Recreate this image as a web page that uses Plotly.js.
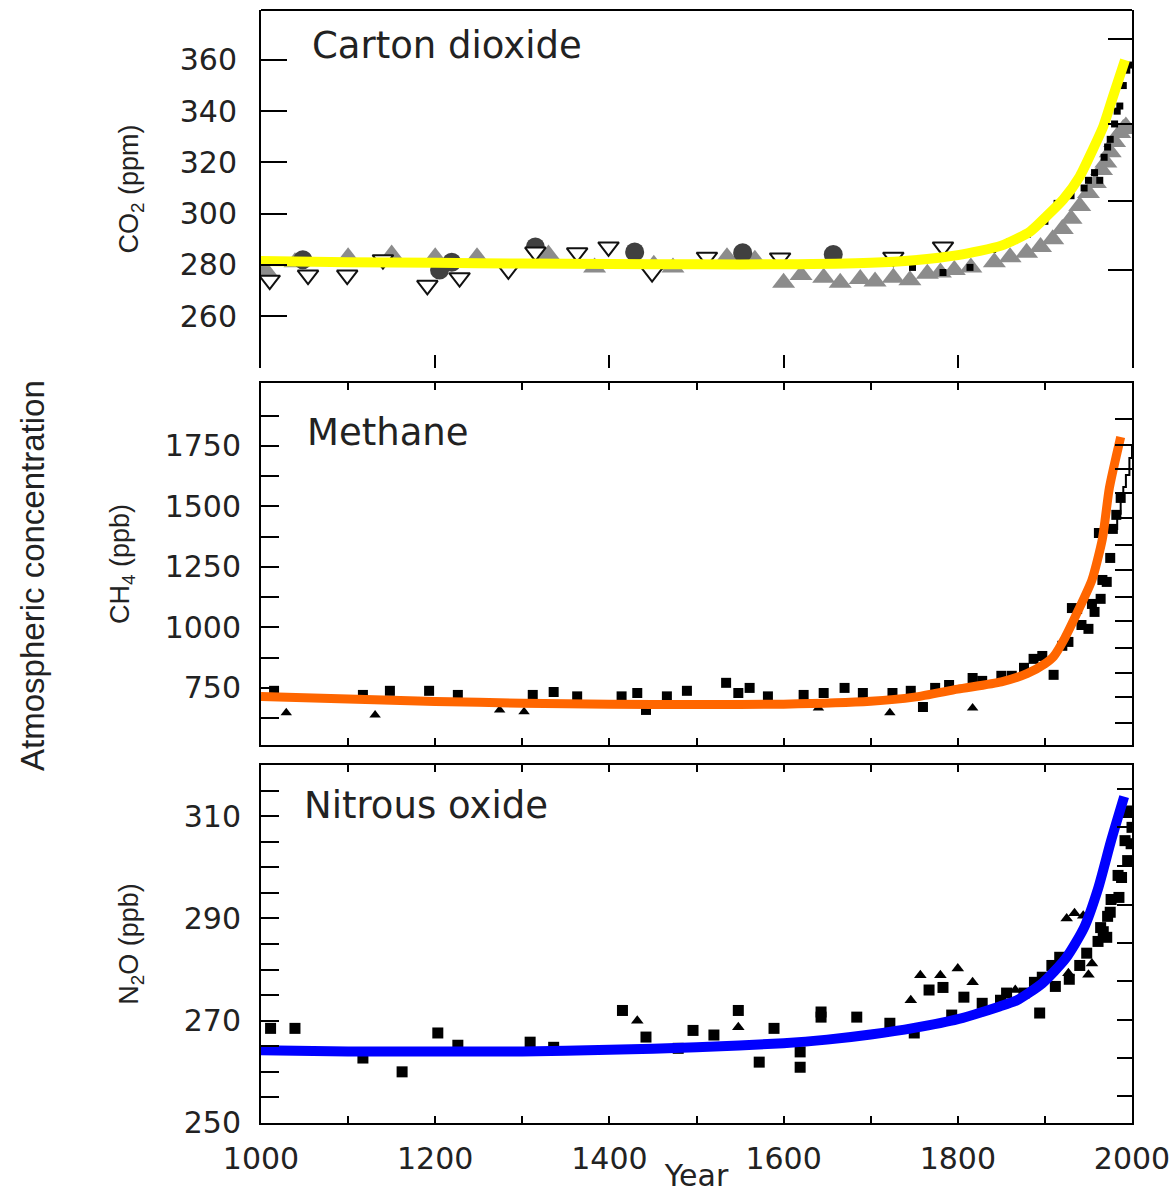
<!DOCTYPE html>
<html>
<head>
<meta charset="utf-8">
<script src="https://cdn.plot.ly/plotly-3.0.1.min.js"></script>
<style>html,body{margin:0;padding:0;background:#fff;}#chart{width:1171px;height:1193px;}</style>
</head>
<body>
<div id="chart"></div>
<script>
// ---------------- Carbon dioxide (ppm) ----------------
const co2LineYear = [1000,1100,1200,1300,1400,1500,1600,1700,1750,1800,1850,1883,1902,1921,1940,1955,1967,1978,1992];
const co2LineVal  = [281.5,281,280.8,280.5,280.3,280.2,280.2,280.8,281.8,283.8,287.5,293,299,305.5,314.5,325,334,345.5,360];

const co2OpenYear = [1010,1054,1099,1140,1191,1228,1284,1315,1363,1399,1449,1512,1596,1726,1783];
const co2OpenVal  = [274,276,276,282,272,275,278,285,284.7,287,277,283,282.7,283,287];

const co2DarkYear = [1048,1205,1219,1315,1429,1553,1657];
const co2DarkVal  = [282,278,281,287,285,284.7,284];

const co2GrayYear = [1005,1039,1100,1150,1200,1248,1330,1383,1451,1473,1535,1567,1600,1620,1646,1665,1688,1705,1726,1745,1765,1780,1796,1815,1842,1860,1879,1895,1909,1920,1930,1940,1950,1958,1965,1970,1975,1980,1986,1990,1993];
const co2GrayVal  = [278,281,283,284,283,283,284,279,280,279,283,282,273,276,275,273,274.5,273.5,275,274,276.5,277,278,279,281,283,284.7,287,290,294,298,303,308,312,317,320,324,328,331.5,333,334];

const co2BlackYear = [1748,1783,1814,1840,1860,1880,1900,1914,1930,1945,1950,1957,1963,1968,1972,1975,1980,1983,1986,1990,1994,1998];
const co2BlackVal  = [279,277,279,286,289,292,297,304,307,310,313,316,313,322,326,329,335,340,342,350,356,358];

const co2TickVals = [260,280,300,320,340,360];
const co2RightTicks = [278,305,335,368];

// ---------------- Methane (ppb) ----------------
const ch4LineYear = [1000,1100,1200,1300,1400,1500,1600,1700,1750,1800,1850,1880,1900,1910,1923,1938,1954,1966,1974,1987];
const ch4LineVal  = [715,704,694,687,682,681,683,695,712,745,775,810,850,880,957,1068,1196,1366,1576,1787];

const ch4SqYear = [1015,1117,1148,1193,1226,1312,1336,1363,1414,1432,1442,1466,1489,1534,1548,1561,1582,1623,1646,1670,1691,1725,1746,1760,1774,1790,1817,1828,1850,1862,1876,1887,1897,1910,1920,1927,1931,1937,1942,1950,1954,1957,1962,1964,1966,1971,1975,1978,1982,1987];
const ch4SqVal  = [738,721,738,738,721,721,733,715,715,729,659,715,738,771,729,750,715,721,729,750,729,729,738,671,750,762,791,779,800,800,833,870,882,804,924,940,1080,1076,1010,994,1097,1064,1390,1118,1196,1188,1287,1407,1465,1535];

const ch4TriYear = [1029,1131,1274,1302,1640,1722,1817];
const ch4TriVal  = [647,638,659,651,667,647,667];

const ch4RecentYear = [1978,1983,1987,1990,1993,1997,2000];
const ch4RecentVal  = [1407,1470,1535,1580,1630,1700,1750];

const ch4TickVals = [750,1000,1250,1500,1750];
const ch4MinorTicks = [625,875,1125,1375,1625,1875];
const ch4RightTicks = [605,713,812,915,1027,1126,1238,1341,1452,1556,1655,1754,1862];

// ---------------- Nitrous oxide (ppb) ----------------
const n2oLineYear = [1000,1100,1200,1300,1400,1500,1600,1650,1700,1750,1800,1848,1868,1897,1924,1945,1961,1976,1991];
const n2oLineVal  = [264.2,264,264,264,264.3,264.8,265.6,266.3,267.3,268.6,270.3,272.8,274,277.3,282.2,288.2,295.8,305.2,313.8];

const n2oSqYear = [1011,1039,1117,1162,1203,1226,1309,1336,1415,1442,1479,1496,1520,1548,1572,1589,1619,1619,1643,1643,1684,1722,1750,1767,1783,1793,1807,1828,1849,1856,1876,1888,1894,1897,1908,1912,1917,1928,1940,1948,1961,1964,1967,1971,1972,1975,1976,1984,1985,1988,1992,1995,1996,1998,1999,2000];
const n2oSqVal  = [268.5,268.5,262.7,260,267.6,265.2,265.8,264.8,272,266.8,264.6,268.1,267.2,272,261.9,268.5,263.9,260.9,271.7,270.7,270.7,269.5,267.6,276,276.5,271.1,274.6,273.4,274,275.4,275.4,277.5,271.5,278.5,280.8,276.7,282.4,278.1,280.8,283.2,285.5,288.2,287.4,286.3,290.4,291.2,293.7,298.4,294.1,298,305.2,301.3,310.7,311,304.6,307.8];

const n2oTriYear = [1432,1548,1746,1757,1780,1800,1817,1866,1925,1927,1934,1944,1950,1954];
const n2oTriVal  = [270,268.7,274,278.9,278.9,280.2,277.5,276,290,279.3,291,290.5,279,281.2];

const n2oTickVals = [250,270,290,310];
const n2oMinorTicks = [255,260,265,275,280,285,295,300,305,315];
const n2oRightTicks = [255.3,262.7,270.2,277.8,285.1,292.7,300.2,307.8,315.3];

// ---------------- Year axis ----------------
const yearTicks = [1000,1200,1400,1600,1800,2000];
const yearMinorTicks = [1100,1300,1500,1700,1900];
const allYearTicks = [1000,1100,1200,1300,1400,1500,1600,1700,1800,1900,2000];
const topYearTicks = [1200,1400,1600,1800];

// ---------------- traces ----------------
const traces = [
  {x: co2GrayYear, y: co2GrayVal, xaxis:'x', yaxis:'y', mode:'markers', type:'scatter',
   marker:{symbol:'triangle-up', size:20, color:'#8c8c8c', line:{width:0}}},
  {x: co2DarkYear, y: co2DarkVal, xaxis:'x', yaxis:'y', mode:'markers', type:'scatter',
   marker:{symbol:'circle', size:19, color:'#404040', line:{width:0}}},
  {x: co2OpenYear, y: co2OpenVal, xaxis:'x', yaxis:'y', mode:'markers', type:'scatter',
   marker:{symbol:'triangle-down', size:18, color:'rgba(255,255,255,1)', line:{width:2, color:'#111'}}},
  {x: co2BlackYear, y: co2BlackVal, xaxis:'x', yaxis:'y', mode:'markers', type:'scatter',
   marker:{symbol:'square', size:7, color:'#000'}},
  {x: co2LineYear, y: co2LineVal, xaxis:'x', yaxis:'y', mode:'lines', type:'scatter',
   line:{color:'#ffff00', width:10, shape:'spline', smoothing:0.6}},

  {x: ch4SqYear, y: ch4SqVal, xaxis:'x2', yaxis:'y2', mode:'markers', type:'scatter',
   marker:{symbol:'square', size:10, color:'#000'}},
  {x: ch4TriYear, y: ch4TriVal, xaxis:'x2', yaxis:'y2', mode:'markers', type:'scatter',
   marker:{symbol:'triangle-up', size:10, color:'#000'}},
  {x: ch4RecentYear, y: ch4RecentVal, xaxis:'x2', yaxis:'y2', mode:'lines', type:'scatter',
   line:{color:'#000', width:2, shape:'hv'}},
  {x: ch4LineYear, y: ch4LineVal, xaxis:'x2', yaxis:'y2', mode:'lines', type:'scatter',
   line:{color:'#ff6600', width:9, shape:'spline', smoothing:0.6}},

  {x: n2oSqYear, y: n2oSqVal, xaxis:'x3', yaxis:'y3', mode:'markers', type:'scatter',
   marker:{symbol:'square', size:11, color:'#000'}},
  {x: n2oTriYear, y: n2oTriVal, xaxis:'x3', yaxis:'y3', mode:'markers', type:'scatter',
   marker:{symbol:'triangle-up', size:11, color:'#000'}},
  {x: n2oLineYear, y: n2oLineVal, xaxis:'x3', yaxis:'y3', mode:'lines', type:'scatter',
   line:{color:'#0000ff', width:10, shape:'spline', smoothing:0.6}}
];

const tickFont = {family:'DejaVu Sans', size:30, color:'#222'};
const titleFont = {family:'Liberation Sans', size:27, color:'#222'};
const panelFont = {family:'DejaVu Sans', size:37, color:'#222'};

const baseY = {showgrid:false, zeroline:false, showline:true, linewidth:2, linecolor:'#000',
  mirror:true, ticks:'inside', tickwidth:2, tickcolor:'#000', tickfont:tickFont, ticklabelstandoff:12};
const rightY = {side:'right', showgrid:false, zeroline:false, showline:false, ticks:'inside',
  tickwidth:2, tickcolor:'#000', showticklabels:false};

const layout = {
  width:1171, height:1193,
  margin:{l:261, r:39, t:10, b:70},
  paper_bgcolor:'#fff', plot_bgcolor:'#fff',
  showlegend:false,
  xaxis:{domain:[0,1], anchor:'y', range:[1000,2000], showline:false, showgrid:false, zeroline:false,
    ticks:'inside', tickvals:topYearTicks, ticklen:13, tickwidth:2, tickcolor:'#000', showticklabels:false},
  xaxis2:{domain:[0,1], anchor:'y2', range:[1000,2000], showline:true, linewidth:2, linecolor:'#000',
    mirror:'ticks', showgrid:false, zeroline:false, ticks:'inside', tickvals:allYearTicks, ticklen:7,
    tickwidth:2, tickcolor:'#000', showticklabels:false},
  xaxis3:{domain:[0,1], anchor:'y3', range:[1000,2000], showline:true, linewidth:2, linecolor:'#000',
    mirror:'ticks', showgrid:false, zeroline:false, ticks:'inside', tickvals:yearTicks,
    minor:{tickvals:yearMinorTicks, ticks:'inside', ticklen:7, tickwidth:2, tickcolor:'#000', showgrid:false},
    ticklen:7, tickwidth:2, tickcolor:'#000', tickfont:tickFont, ticklabelstandoff:8,
    title:{text:'Year', font:{family:'DejaVu Sans', size:30, color:'#222'}, standoff:10}},

  yaxis:Object.assign({}, baseY, {domain:[0.6783,1], anchor:'x', range:[239.7,379.5],
    tickvals:co2TickVals, ticklen:26, ticklabelstandoff:16,
    title:{text:'CO<sub>2</sub> (ppm)', font:titleFont, standoff:33}}),
  yaxis2:Object.assign({}, baseY, {domain:[0.3396,0.6649], anchor:'x2', range:[514,2010],
    tickvals:ch4TickVals, ticklen:18,
    minor:{tickvals:ch4MinorTicks, ticks:'inside', ticklen:18, tickwidth:2, tickcolor:'#000', showgrid:false},
    title:{text:'CH<sub>4</sub> (ppb)', font:titleFont, standoff:27}}),
  yaxis3:Object.assign({}, baseY, {domain:[0,0.3217], anchor:'x3', range:[250,320],
    tickvals:n2oTickVals, ticklen:18,
    minor:{tickvals:n2oMinorTicks, ticks:'inside', ticklen:18, tickwidth:2, tickcolor:'#000', showgrid:false},
    title:{text:'N<sub>2</sub>O (ppb)', font:titleFont, standoff:37}}),

  yaxis4:Object.assign({}, rightY, {overlaying:'y', anchor:'x', range:[239.7,379.5], tickvals:co2RightTicks, ticklen:24}),
  yaxis5:Object.assign({}, rightY, {overlaying:'y2', anchor:'x2', range:[514,2010], tickvals:ch4RightTicks, ticklen:17}),
  yaxis6:Object.assign({}, rightY, {overlaying:'y3', anchor:'x3', range:[250,320], tickvals:n2oRightTicks, ticklen:15}),

  shapes:[
    {type:'line', xref:'x domain', yref:'y domain', x0:0, x1:1, y0:1, y1:1, line:{color:'#000', width:2}}
  ],
  annotations:[
    {text:'Carton dioxide', xref:'paper', yref:'paper', x:0.056, y:0.9677, xanchor:'left', yanchor:'middle', showarrow:false, font:panelFont},
    {text:'Methane', xref:'paper', yref:'paper', x:0.0505, y:0.6208, xanchor:'left', yanchor:'middle', showarrow:false, font:panelFont},
    {text:'Nitrous oxide', xref:'paper', yref:'paper', x:0.047, y:0.2857, xanchor:'left', yanchor:'middle', showarrow:false, font:panelFont},
    {text:'Atmospheric concentration', xref:'paper', yref:'paper', x:-0.2618, y:0.4924, xanchor:'center', yanchor:'middle',
     textangle:-90, showarrow:false, font:{family:'Liberation Sans', size:33, color:'#222'}}
  ]
};
// invisible anchor traces so the right-hand tick axes are drawn
traces.push({x:[1000], y:[300], xaxis:'x', yaxis:'y4', mode:'markers', marker:{opacity:0}, hoverinfo:'skip'});
traces.push({x:[1000], y:[1000], xaxis:'x2', yaxis:'y5', mode:'markers', marker:{opacity:0}, hoverinfo:'skip'});
traces.push({x:[1000], y:[280], xaxis:'x3', yaxis:'y6', mode:'markers', marker:{opacity:0}, hoverinfo:'skip'});

Plotly.newPlot('chart', traces, layout, {displayModeBar:false, staticPlot:true}).then(function (gd) {
  // drop empty placeholder text nodes that carry no visible content
  gd.querySelectorAll('text').forEach(function (t) {
    if (!t.textContent || !t.textContent.trim()) t.parentNode.removeChild(t);
  });
});
</script>
</body>
</html>
